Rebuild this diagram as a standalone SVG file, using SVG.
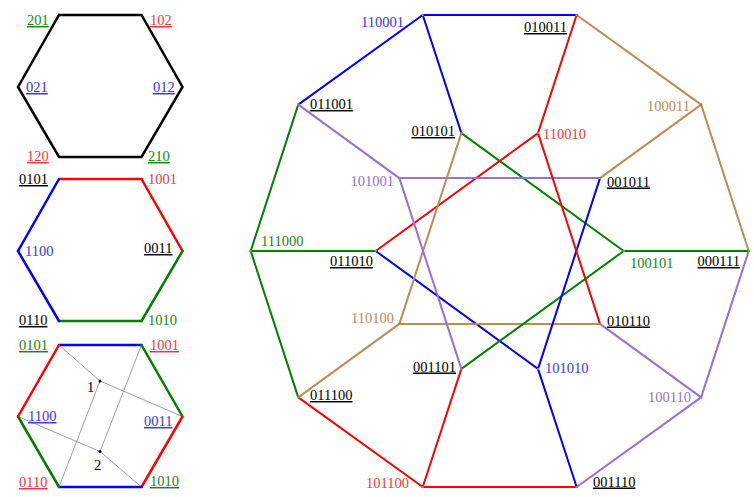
<svg xmlns="http://www.w3.org/2000/svg" width="754" height="497" viewBox="0 0 754 497">
<style>
text{font-family:"Liberation Serif","Times New Roman",serif;font-size:14.5px}
.u{text-decoration:underline}
.e{fill:none;stroke-width:2;stroke-linecap:round}
.h{fill:none;stroke-width:2.5;stroke-linecap:round}
.thin{fill:none;stroke:#888;stroke-width:0.8}
.b{stroke:#0000ff}.r{stroke:#ff0000}.g{stroke:#008000}.t{stroke:#c08a55}.p{stroke:#9370db}.k{stroke:#000}
.tb{fill:#3333ff}.tr{fill:#ff3333}.tg{fill:#118811}.tt{fill:#c08a55}.tp{fill:#9370db}.tk{fill:#000}
.v{fill:#888}
.end{text-anchor:end}
</style>
<g id="hex1">
<path class="h k" d="M59,15 L141.5,15 L182.5,87 L141.5,157 L59,157 L18,87 Z"/>
<text class="u tg" x="27" y="25">201</text>
<text class="u tr" x="150" y="25">102</text>
<text class="u tb" x="26" y="92">021</text>
<text class="u tb" x="153" y="92">012</text>
<text class="u tr" x="27" y="161">120</text>
<text class="u tg" x="148" y="161">210</text>
</g>
<g id="hex2">
<line class="h r" x1="59" y1="179" x2="141.5" y2="179"/>
<line class="h r" x1="141.5" y1="179" x2="182.5" y2="251"/>
<line class="h g" x1="182.5" y1="251" x2="141.5" y2="321"/>
<line class="h g" x1="141.5" y1="321" x2="59" y2="321"/>
<line class="h b" x1="59" y1="321" x2="18" y2="251"/>
<line class="h b" x1="18" y1="251" x2="59" y2="179"/>
<text class="u tk" x="19" y="184">0101</text>
<text class="tr" x="148" y="184">1001</text>
<text class="tb" x="25" y="256">1100</text>
<text class="u tk" x="144" y="253">0011</text>
<text class="u tk" x="19" y="325">0110</text>
<text class="tg" x="148" y="325">1010</text>
</g>
<g id="hex3">
<path class="thin" d="M59,345 L100,381 L182.5,416.5 M100,381 L59,487 M141.5,345 L100,451.5 L18,416.5 M100,451.5 L141.5,487"/>
<circle cx="100" cy="381" r="1.5" fill="#000"/>
<circle cx="100" cy="451.5" r="1.5" fill="#000"/>
<line class="h b" x1="59" y1="345" x2="141.5" y2="345"/>
<line class="h g" x1="141.5" y1="345" x2="182.5" y2="416.5"/>
<line class="h r" x1="182.5" y1="416.5" x2="141.5" y2="487"/>
<line class="h b" x1="141.5" y1="487" x2="59" y2="487"/>
<line class="h g" x1="59" y1="487" x2="18" y2="416.5"/>
<line class="h r" x1="18" y1="416.5" x2="59" y2="345"/>
<text class="tk" x="87" y="392">1</text>
<text class="tk" x="94" y="470">2</text>
<text class="u tg" x="19" y="350">0101</text>
<text class="u tr" x="150" y="350">1001</text>
<text class="u tb" x="28" y="421">1100</text>
<text class="u tb" x="144" y="426">0011</text>
<text class="u tr" x="19" y="487">0110</text>
<text class="u tg" x="150" y="486">1010</text>
</g>
<g id="connectors">
<line class="e b" x1="422.75" y1="15" x2="576.65" y2="15"/>
<line class="e t" x1="576.65" y1="15" x2="701.15" y2="104.64"/>
<line class="e t" x1="701.15" y1="104.64" x2="748.7" y2="251"/>
<line class="e p" x1="748.7" y1="251" x2="701.15" y2="397.36"/>
<line class="e p" x1="701.15" y1="397.36" x2="576.65" y2="487"/>
<line class="e r" x1="576.65" y1="487" x2="422.75" y2="487"/>
<line class="e r" x1="422.75" y1="487" x2="298.25" y2="397.36"/>
<line class="e g" x1="298.25" y1="397.36" x2="250.7" y2="251"/>
<line class="e g" x1="250.7" y1="251" x2="298.25" y2="104.64"/>
<line class="e b" x1="298.25" y1="104.64" x2="422.75" y2="15"/>
<line class="e b" x1="422.75" y1="15" x2="461.38" y2="133.07"/>
<line class="e r" x1="576.65" y1="15" x2="538.02" y2="133.07"/>
<line class="e t" x1="701.15" y1="104.64" x2="600.02" y2="178.11"/>
<line class="e g" x1="748.7" y1="251" x2="623.7" y2="251"/>
<line class="e p" x1="701.15" y1="397.36" x2="600.02" y2="323.89"/>
<line class="e b" x1="576.65" y1="487" x2="538.02" y2="368.93"/>
<line class="e r" x1="422.75" y1="487" x2="461.38" y2="368.93"/>
<line class="e t" x1="298.25" y1="397.36" x2="399.38" y2="323.89"/>
<line class="e g" x1="250.7" y1="251" x2="375.7" y2="251"/>
<line class="e p" x1="298.25" y1="104.64" x2="399.38" y2="178.11"/>
<line class="e g" x1="461.38" y1="133.07" x2="623.7" y2="251"/>
<line class="e r" x1="538.02" y1="133.07" x2="375.7" y2="251"/>
<line class="e p" x1="399.38" y1="178.11" x2="600.02" y2="178.11"/>
<line class="e b" x1="375.7" y1="251" x2="538.02" y2="368.93"/>
<line class="e t" x1="399.38" y1="323.89" x2="600.02" y2="323.89"/>
<line class="e g" x1="461.38" y1="368.93" x2="623.7" y2="251"/>
<line class="e b" x1="538.02" y1="368.93" x2="600.02" y2="178.11"/>
<line class="e r" x1="600.02" y1="323.89" x2="538.02" y2="133.07"/>
<line class="e t" x1="461.38" y1="133.07" x2="399.38" y2="323.89"/>
<line class="e p" x1="399.38" y1="178.11" x2="461.38" y2="368.93"/>
</g>
<g id="n110001"><circle class="v" cx="422.75" cy="15" r="1.2"/><text class="tb end" x="404" y="27">110001</text></g>
<g id="n010011"><circle class="v" cx="576.65" cy="15" r="1.2"/><text class="u tk end" x="567" y="32">010011</text></g>
<g id="n100011"><circle class="v" cx="701.15" cy="104.64" r="1.2"/><text class="tt end" x="690" y="111">100011</text></g>
<g id="n000111"><circle class="v" cx="748.7" cy="251" r="1.2"/><text class="u tk end" x="740" y="266">000111</text></g>
<g id="n100110"><circle class="v" cx="701.15" cy="397.36" r="1.2"/><text class="tp end" x="691" y="401.5">100110</text></g>
<g id="n001110"><circle class="v" cx="576.65" cy="487" r="1.2"/><text class="u tk" x="593" y="486.5">001110</text></g>
<g id="n101100"><circle class="v" cx="422.75" cy="487" r="1.2"/><text class="tr end" x="409" y="488">101100</text></g>
<g id="n011100"><circle class="v" cx="298.25" cy="397.36" r="1.2"/><text class="u tk" x="310" y="400">011100</text></g>
<g id="n111000"><circle class="v" cx="250.7" cy="251" r="1.2"/><text class="tg" x="261" y="246">111000</text></g>
<g id="n011001"><circle class="v" cx="298.25" cy="104.64" r="1.2"/><text class="u tk" x="310" y="109">011001</text></g>
<g id="n100101"><circle class="v" cx="623.7" cy="251" r="1.2"/><text class="tg" x="630" y="267.5">100101</text></g>
<g id="n001011"><circle class="v" cx="600.02" cy="178.11" r="1.2"/><text class="u tk" x="607" y="186.5">001011</text></g>
<g id="n110010"><circle class="v" cx="538.02" cy="133.07" r="1.2"/><text class="tr" x="543" y="139">110010</text></g>
<g id="n010101"><circle class="v" cx="461.38" cy="133.07" r="1.2"/><text class="u tk end" x="455" y="136">010101</text></g>
<g id="n101001"><circle class="v" cx="399.38" cy="178.11" r="1.2"/><text class="tp end" x="394" y="186">101001</text></g>
<g id="n011010"><circle class="v" cx="375.7" cy="251" r="1.2"/><text class="u tk end" x="373" y="266">011010</text></g>
<g id="n110100"><circle class="v" cx="399.38" cy="323.89" r="1.2"/><text class="tt end" x="394" y="323">110100</text></g>
<g id="n001101"><circle class="v" cx="461.38" cy="368.93" r="1.2"/><text class="u tk end" x="456" y="371.5">001101</text></g>
<g id="n101010"><circle class="v" cx="538.02" cy="368.93" r="1.2"/><text class="tb" x="545" y="373">101010</text></g>
<g id="n010110"><circle class="v" cx="600.02" cy="323.89" r="1.2"/><text class="u tk" x="607" y="325.5">010110</text></g>
</svg>
